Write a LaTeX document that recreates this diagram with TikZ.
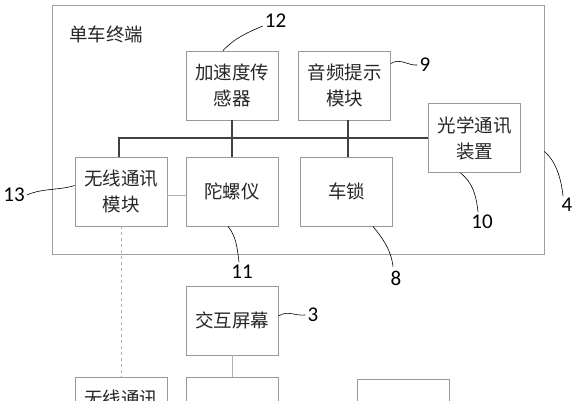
\documentclass[tikz,border=0pt]{standalone}
\usepackage{fontspec}
\setmainfont{Carlito}
\newfontfamily\cjk{Noto Sans CJK SC}
\begin{document}
\begin{tikzpicture}[x=1pt, y=-1pt,
box/.style={draw=gray!80, line width=0.8pt, minimum width=92pt, minimum height=69pt,
  inner sep=0pt, align=center, text=black!85, font=\cjk\fontsize{18.5}{26}\selectfont},
num/.style={inner sep=0pt, font=\fontsize{21}{21}\selectfont},
bus/.style={draw=black!75, line width=1.6pt},
link/.style={draw=gray!60, line width=0.8pt},
lead/.style={draw=black, line width=0.6pt},
]
\useasboundingbox (0,0) rectangle (577,400);
\clip (0,0) rectangle (577,400);

% bike terminal
\node [draw=gray!75, line width=0.8pt, minimum width=492pt, minimum height=249pt, inner sep=0pt] (term) at (298,129.5) {};
\node [inner sep=0pt, text=black!85, font=\cjk\fontsize{18.5}{20}\selectfont] (termname) at (106,34) {单车终端};

\node [box] (acc) at (232,85.5) {加速度传\\感器};
\node [box] (audio) at (344.5,85.5) {音频提示\\模块};
\node [box] (opt) at (474.5,138) {光学通讯\\装置};
\node [box] (wl) at (121,191.5) {无线通讯\\模块};
\node [box] (gyro) at (232,191.5) {陀螺仪};
\node [box] (lock) at (346.5,191.5) {车锁};

% outside
\node [box] (screen) at (232,320.5) {交互屏幕};
\node [box] (wlb) at (121,411.5) {无线通讯\\模块};
\node [box] (devb) at (232,411.5) {};
\node [box] (boxc) at (403,413.5) {};

% bus
\draw [bus] ([xshift=-2pt]wl.north) |- (opt.west);
\draw [bus] (acc.south) -- (gyro.north);
\draw [bus] ([xshift=3.5pt]audio.south) -- ([xshift=1.5pt]lock.north);
\draw [link] ([yshift=-4pt]wl.east) -- ([yshift=-4pt]gyro.west);
\draw [link, dashed] (wl.south) -- (wlb.north);
\draw [link] (screen.south) -- (devb.north);

% numbers
\node [num] (n12) at (275.5,21) {12};
\node [num] (n9) at (425,65) {9};
\node [num] (n13) at (14,195) {13};
\node [num] (n10) at (482,222) {10};
\node [num] (n4) at (567,205) {4};
\node [num] (n11) at (242,272) {11};
\node [num] (n8) at (396,278) {8};
\node [num] (n3) at (313,315) {3};

\draw [lead] ([xshift=-9pt]acc.north) .. controls +(12,-13) and +(-14,6) .. ([xshift=-2pt,yshift=2pt]n12.south west);
\draw [lead] ([yshift=22pt]audio.east) .. controls +(9,-6) and +(-9,1) .. ([xshift=-2pt]n9.west);
\draw [lead] ([xshift=2pt]n13.east) .. controls +(16,-7) and +(-16,5) .. ([yshift=6pt]wl.west);
\draw [lead] ([xshift=-14pt]opt.south) .. controls +(12,10) and +(-2,-18) .. ([xshift=-4pt,yshift=3pt]n10.north);
\draw [lead] ([yshift=-22pt]term.east) .. controls +(10,8) and +(-2,-20) .. ([xshift=-4pt,yshift=2pt]n4.north);
\draw [lead] ([xshift=-4pt]gyro.south) .. controls +(8,10) and +(-2,-16) .. ([xshift=-3pt,yshift=3pt]n11.north);
\draw [lead] ([xshift=26.5pt]lock.south) .. controls +(8,10) and +(-2,-18) .. ([xshift=-3pt,yshift=4pt]n8.north);
\draw [lead] ([yshift=4.5pt]screen.east) .. controls +(10,-6) and +(-12,1) .. ([xshift=-2pt]n3.west);
\end{tikzpicture}
\end{document}
